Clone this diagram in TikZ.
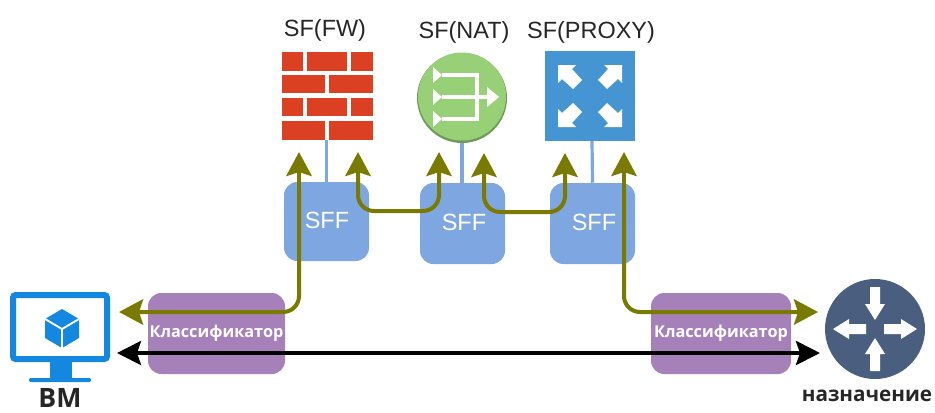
\documentclass[tikz,border=0pt]{standalone}
\usepackage{fontspec}
\setmainfont{Liberation Sans}
\newfontfamily\boldfam[Scale=1]{Open Sans Bold}
\usetikzlibrary{arrows.meta}
\definecolor{sffblue}{HTML}{7EA6E0}
\definecolor{clpurple}{HTML}{A680B8}
\definecolor{wallred}{HTML}{DB4023}
\definecolor{natgreen}{HTML}{97D077}
\definecolor{natdark}{HTML}{6F9B58}
\definecolor{proxyblue}{HTML}{4495D1}
\definecolor{vmblue}{HTML}{1488E0}
\definecolor{routerblue}{HTML}{4A5F80}
\definecolor{flowolive}{HTML}{7A7A00}
\tikzset{
  sffbox/.style={draw=none,fill=sffblue,rounded corners=10pt,minimum width=63.75pt,minimum height=60pt,inner sep=0pt},
  sfftext/.style={inner sep=0pt,text=white,font=\fontsize{17.6}{20}\selectfont},
  classbox/.style={draw=none,fill=clpurple,rounded corners=10pt,minimum height=60.75pt,inner sep=0pt,text=white,font=\boldfam\fontsize{12.2}{14}\selectfont},
  sflabel/.style={inner sep=0pt,text=black!85,font=\fontsize{17.6}{20}\selectfont},
  iconbox/.style={inner sep=0pt,draw=none},
  capt/.style={inner sep=0pt,text=black!85,font=\boldfam\fontsize{15.5}{18}\selectfont},
  attach/.style={draw=sffblue,line width=2.4pt},
  flow/.style={draw=flowolive,line width=3pt,rounded corners=12pt,-{Stealth[length=18pt,width=19pt,inset=3pt]}},
  flowboth/.style={draw=flowolive,line width=3pt,rounded corners=12pt,{Stealth[length=18pt,width=19pt,inset=3pt]}-{Stealth[length=18pt,width=19pt,inset=3pt]}},
  flowback/.style={draw=black,line width=3pt,{Stealth[length=18pt,width=18pt,inset=3pt]}-{Stealth[length=18pt,width=18pt,inset=3pt]}},
  brick/.style={fill=wallred,draw=none},
  arrowpoly/.style={fill=white,draw=none}
}
\begin{document}
\begin{tikzpicture}[x=0.75pt,y=-0.75pt]
\useasboundingbox (0,0) rectangle (935,412);

% labels
\node[sflabel] (lfw) at (325,30) {SF(FW)};
\node[sflabel] (lnat) at (464,32) {SF(NAT)};
\node[sflabel] (lproxy) at (591,32) {SF(PROXY)};

% firewall
\node[iconbox,minimum width=68.25pt,minimum height=66pt] (fw) at (327.5,96) {};
\foreach \xa/\xb/\ya/\yb in {282/303/52/71,307/347/52/71,351/373/52/71,
  282/325/75/93,329/373/75/93,
  282/303/98/116,307/347/98/116,351/373/98/116,
  282/325/121/140,329/373/121/140}
  \fill[brick] (\xa,\ya) rectangle (\xb,\yb);

% NAT
\fill[natdark] (462,98) circle[radius=33.75pt];
\fill[natgreen] (462,96.5) circle[radius=33pt];
\node[iconbox,circle,minimum size=67.5pt] (nat) at (462,98) {};
\foreach \yy in {75,97,119}
  \fill[arrowpoly] (433,\yy-8) -- (442,\yy) -- (433,\yy+8) -- cycle;
\draw[white,line width=2.6pt] (442,75) -- (477,75) -- (477,119) -- (442,119);
\draw[white,line width=2.6pt] (442,97) -- (488,97);
\fill[arrowpoly] (487,87) -- (499,97) -- (487,107) -- cycle;

% proxy
\node[iconbox,fill=proxyblue,minimum width=67.5pt,minimum height=67.5pt] (proxy) at (590,96) {};
\foreach \cx/\cy/\sx/\sy in {558/65/1/1,622/65/-1/1,558/127/1/-1,622/127/-1/-1}
  \fill[arrowpoly,shift={(\cx,\cy)},xscale=\sx,yscale=\sy]
    (0,0) -- (18,0) -- (14,4) -- (24,15) -- (15,24) -- (4,14) -- (0,18) -- cycle;

% SFF boxes
\node[sffbox,minimum height=59.25pt] (sff1) at (326.5,221.5) {};
\node[sffbox,minimum height=60.75pt] (sff2) at (462.5,223.5) {};
\node[sffbox,minimum height=60.75pt] (sff3) at (592.5,223.5) {};
\node[sfftext] (tsff1) at (327,220) {SFF};
\node[sfftext] (tsff2) at (464,222) {SFF};
\node[sfftext] (tsff3) at (594,222) {SFF};

\draw[attach] (fw.south -| sff1.north) -- (sff1.north);
\draw[attach] (nat.south) -- (nat.south |- sff2.north);
\draw[attach] (592,141) -- (sff3.north);

% classifiers
\node[classbox,minimum width=102.75pt] (cl1) at (216.5,333.5) {Классификатор};
\node[classbox,minimum width=105pt] (cl2) at (721,333.5) {Классификатор};

% VM
\node[iconbox,minimum width=75pt,minimum height=52.5pt] (vm) at (60,327) {};
\fill[vmblue] (50,360) rectangle (72,379);
\fill[vmblue,rounded corners=1pt] (29,378) rectangle (91,382);
\draw[vmblue,line width=4.5pt,fill=white,rounded corners=2pt] (13,295) rectangle (107,359);
\fill[vmblue] (62,309) -- (79,319) -- (79,338) -- (62,348) -- (45,338) -- (45,319) -- cycle;
\draw[white,line width=1.4pt] (45,319) -- (62,329) -- (79,319) (62,329) -- (62,348);
\node[capt,font=\boldfam\fontsize{20}{22}\selectfont] (lvm) at (60,397.5) {ВМ};

% router
\node[iconbox,circle,fill=routerblue,minimum size=75pt] (dst) at (875,329) {};
\foreach \ang in {90,270}
  \fill[arrowpoly,shift={(875,329)},rotate=\ang]
    (9,0) -- (25,-10) -- (25,-5) -- (42,-5) -- (42,5) -- (25,5) -- (25,10) -- cycle;
\foreach \ang in {0,180}
  \fill[arrowpoly,shift={(875,329)},rotate=\ang]
    (9,-5) -- (26,-5) -- (26,-10) -- (42,0) -- (26,10) -- (26,5) -- (9,5) -- cycle;
\node[capt] (ldst) at (867,396) {назначение};

% named connector ends
\coordinate (a1s) at (119,312);
\coordinate (a1e) at (299,152);
\coordinate (a2s) at (358,152);
\coordinate (a2e) at (439,152);
\coordinate (a3s) at (484,153);
\coordinate (a3e) at (565,153);
\coordinate (a4s) at (624,152);
\coordinate (a4e) at (818,312);
\coordinate (b1) at (117,353);
\coordinate (b2) at (820,353);

% flows
\draw[flow] (299,200) -- (a1e);
\draw[flow] (299,190) |- (a1s);
\draw[flowboth] (a2s) |- (400,211) -| (a2e);
\draw[flowboth] (a3s) |- (525,212) -| (a3e);
\draw[flow] (624,200) -- (a4s);
\draw[flow] (624,190) |- (a4e);
\draw[flowback] (b1) -- (b2);
\end{tikzpicture}
\end{document}
